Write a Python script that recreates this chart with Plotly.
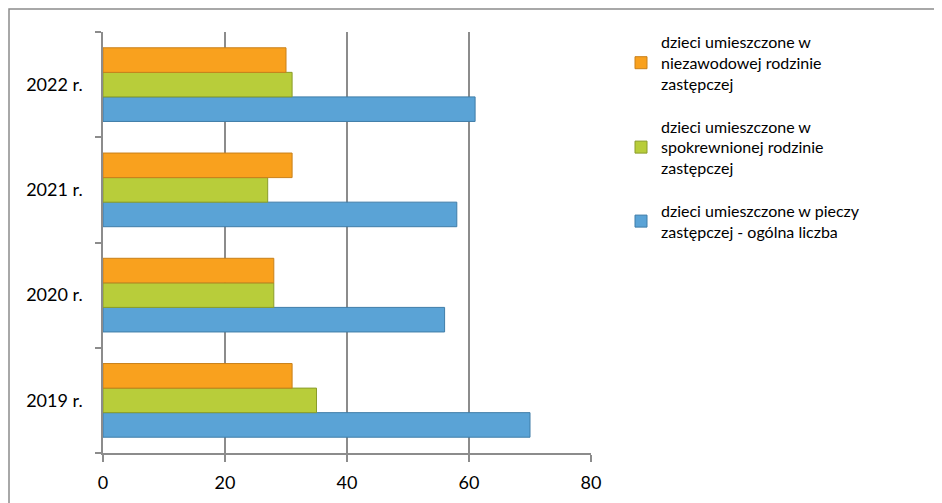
import plotly.graph_objects as go

years = ["2019 r.", "2020 r.", "2021 r.", "2022 r."]
ogolna = [70, 56, 58, 61]
spokrewniona = [35, 28, 27, 31]
niezawodowa = [31, 28, 31, 30]
x_ticks = [0, 20, 40, 60, 80]

names = [
    "dzieci umieszczone w pieczy<br>zastępczej - ogólna liczba",
    "dzieci umieszczone w<br>spokrewnionej rodzinie<br>zastępczej",
    "dzieci umieszczone w<br>niezawodowej rodzinie<br>zastępczej",
]
colors = ["#5AA3D6", "#B8CD3A", "#F9A11E"]
lines = ["#3F7DA8", "#8A9C2A", "#C9801A"]
ranks = [3, 2, 1]
series = [ogolna, spokrewniona, niezawodowa]

fig = go.Figure()
for i, (vals, nm, c, lc, rk) in enumerate(zip(series, names, colors, lines, ranks)):
    fig.add_trace(go.Bar(
        y=years, x=vals, orientation="h", name=nm,
        marker=dict(color=c, line=dict(color=lc, width=1)),
        legendgroup=str(i), legendrank=rk,
    ))

L, R, T, B = 95, 359, 24, 58
PW = 942 - L - R
PH = 503 - T - B

font = "Lato, 'Liberation Sans', sans-serif"
fig.update_layout(
    width=942, height=503,
    margin=dict(l=L, r=R, t=T, b=B),
    paper_bgcolor="white", plot_bgcolor="white",
    barmode="group", bargap=0.3, bargroupgap=0,
    font=dict(family=font, color="#000000"),
    showlegend=True,
    legend=dict(
        x=(613 - L) / PW, y=(PH + T - 17) / PH, xanchor="left", yanchor="top",
        traceorder="grouped", tracegroupgap=19,
        font=dict(size=16, family=font),
        itemwidth=30,
    ),
    xaxis=dict(
        range=[0, 80], tickvals=x_ticks, showgrid=True,
        gridcolor="#8C8C8C", gridwidth=1.5,
        showline=True, linecolor="#8C8C8C", linewidth=1.5,
        ticks="outside", ticklen=7, tickcolor="#8C8C8C", tickwidth=1.5,
        tickfont=dict(size=18), ticklabelstandoff=6, zeroline=False,
    ),
    yaxis=dict(
        type="category", categoryorder="array", categoryarray=years,
        showline=True, linecolor="#8C8C8C", linewidth=1.5,
        ticks="outside", tickson="boundaries", ticklen=6, tickcolor="#8C8C8C",
        tickwidth=1.5, tickfont=dict(size=18), showgrid=False,
        ticklabelstandoff=15,
    ),
    shapes=[dict(
        type="rect", xref="paper", yref="paper",
        x0=(1 - L) / PW, x1=(932 - L) / PW,
        y0=-0.3, y1=(PH + T - 1) / PH,
        line=dict(color="#8C8C8C", width=1.5), fillcolor="rgba(0,0,0,0)",
        layer="below",
    )],
)

fig.write_html("out.html")
